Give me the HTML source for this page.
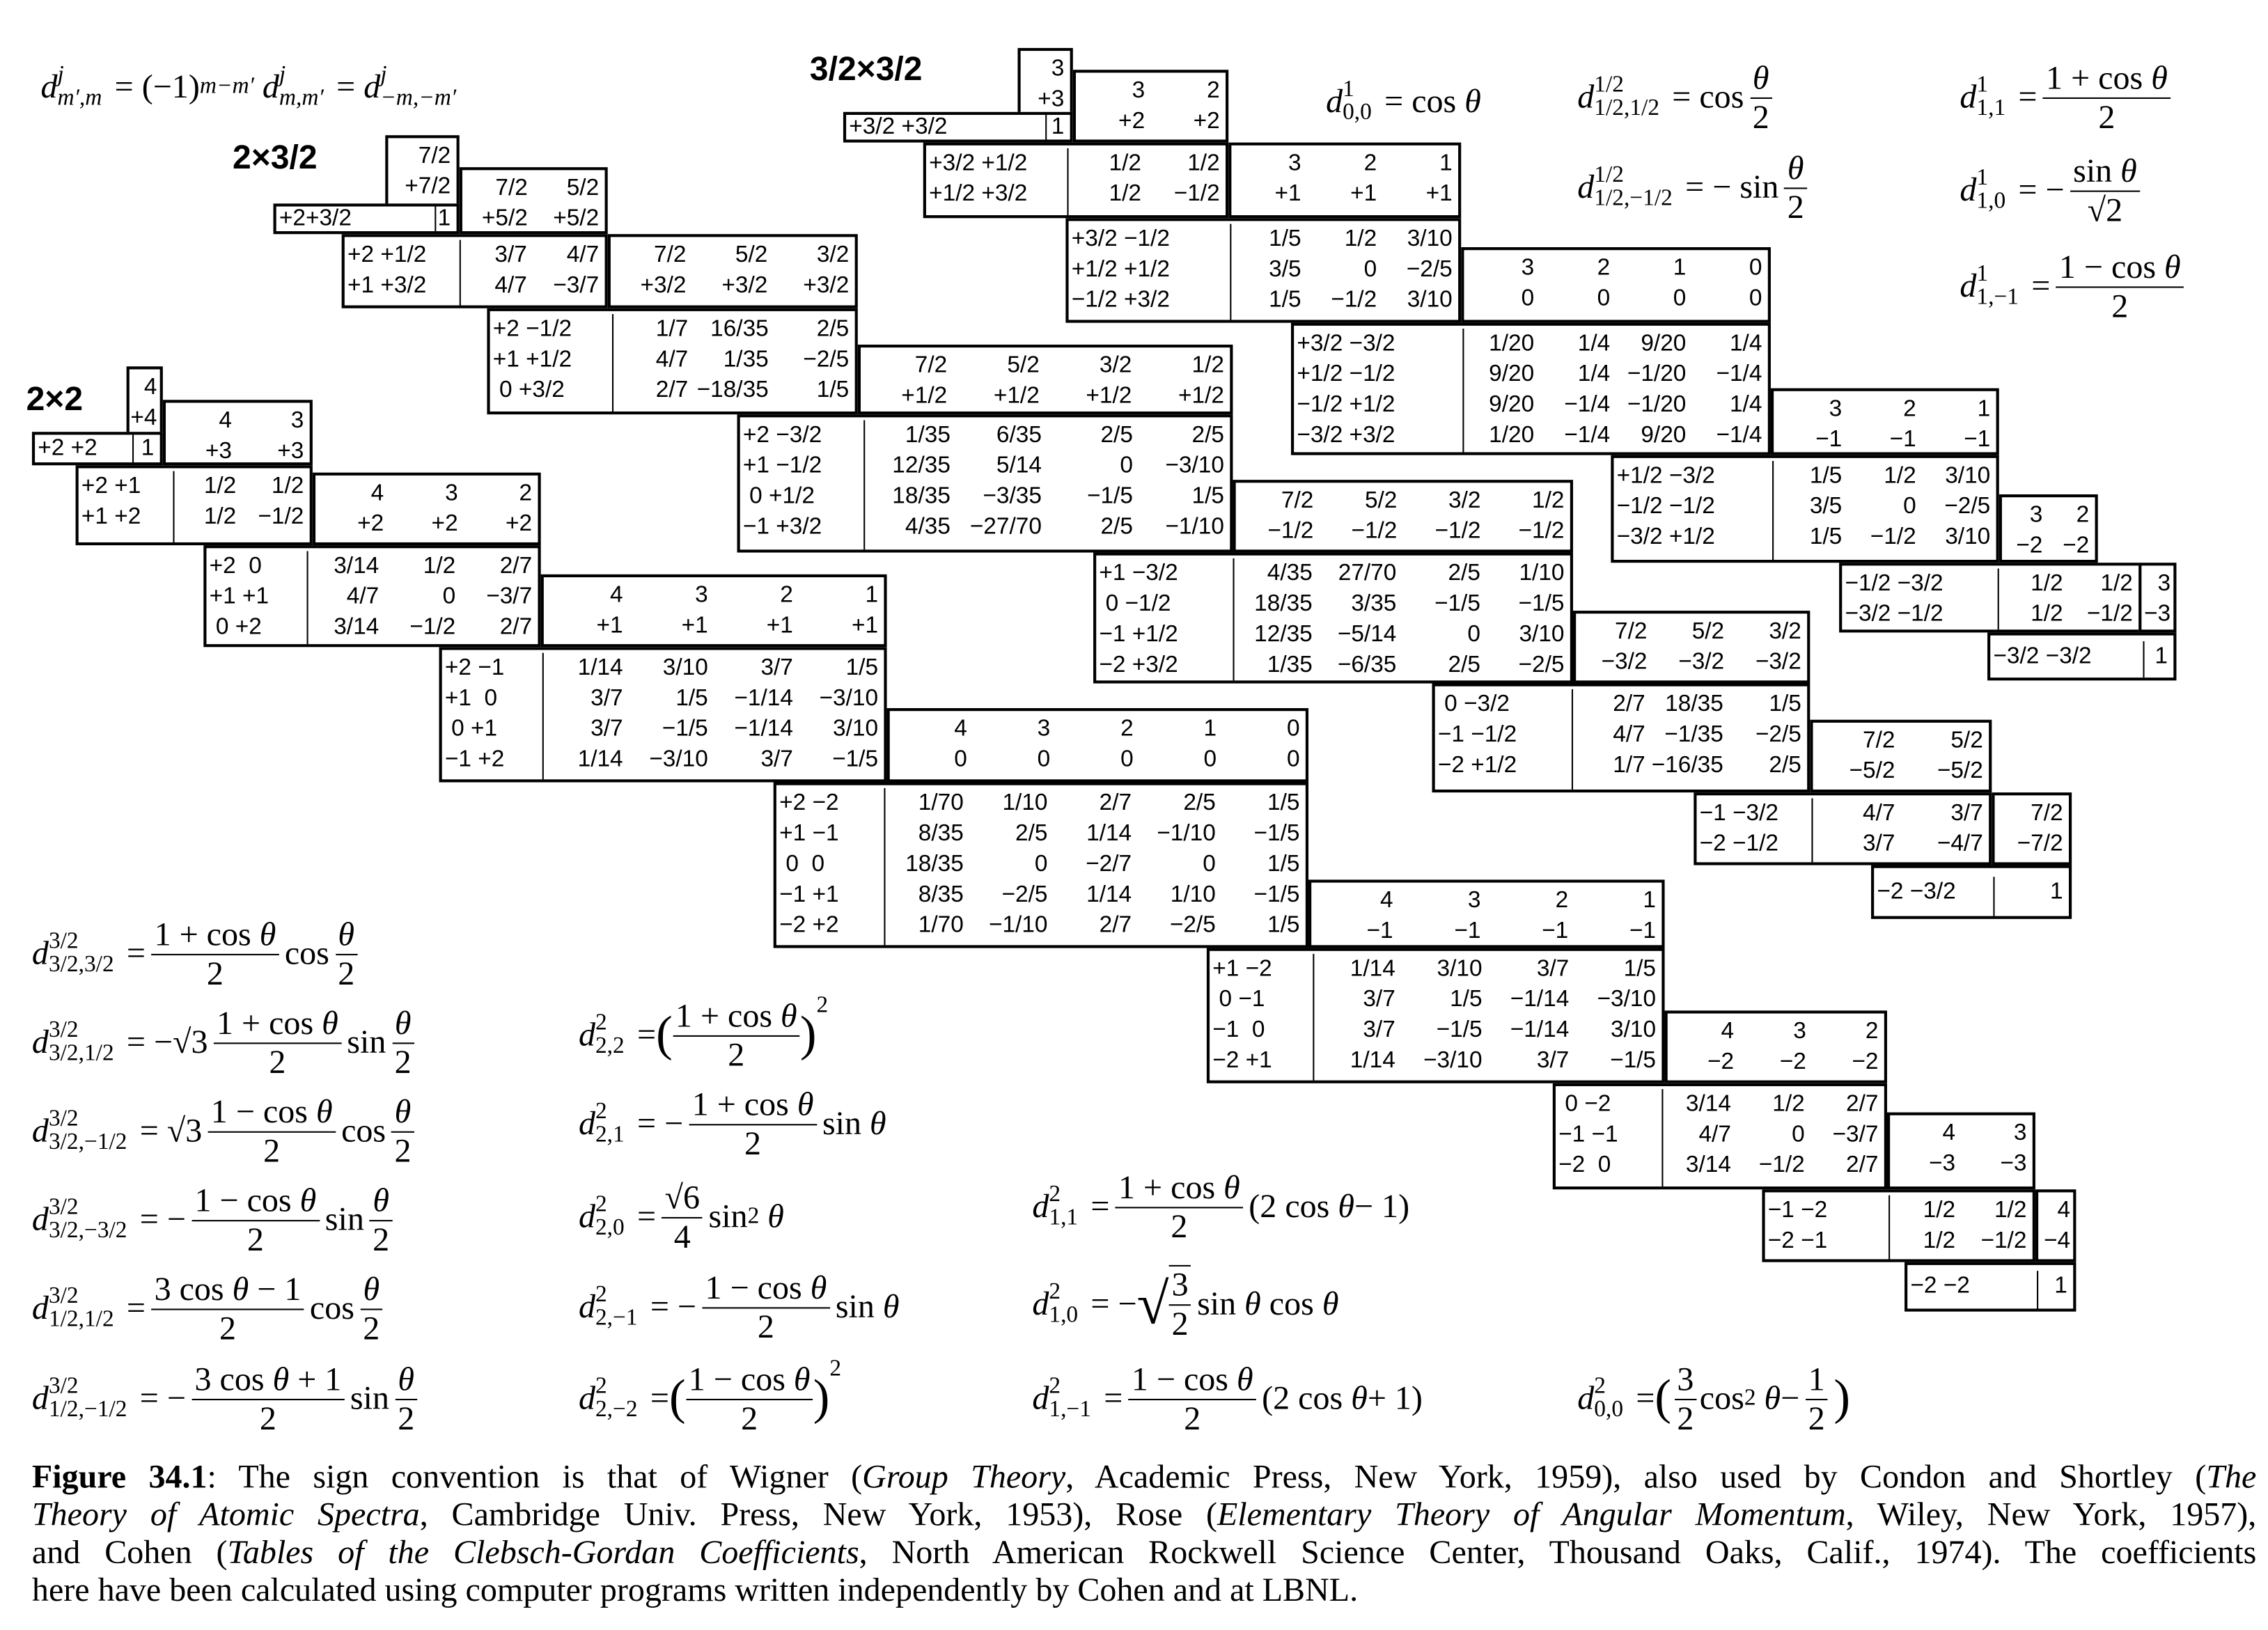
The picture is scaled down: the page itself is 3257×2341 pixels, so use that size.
<!DOCTYPE html>
<html><head><meta charset="utf-8">
<style>
html,body{margin:0;padding:0;background:#fff;width:3257px;height:2341px;overflow:hidden}
#s{position:absolute;left:0;top:0;width:1560px;height:1121px;transform:scale(2.08782,2.08831);transform-origin:0 0}
.b{position:absolute;border:2px solid #000;box-sizing:border-box;background:#fff;font:16px "Liberation Sans",sans-serif;line-height:21px;padding-top:2px}
.f{display:flex}
.l{border-right:1px solid #000;white-space:pre;padding-left:2px;box-sizing:border-box;height:100%}
.v{flex:1}
.r{display:flex}
.r span{flex:1;text-align:right;padding-right:4px;white-space:nowrap}
.t{position:absolute;font:bold 23px "Liberation Sans",sans-serif}
.m{position:absolute;font:23px "Liberation Serif",serif;white-space:nowrap;display:flex;align-items:center}
.d{font-style:italic}
.ss{display:inline-flex;flex-direction:column;font-size:16px;line-height:16px;margin-right:3px;vertical-align:middle}
.fr{display:inline-flex;flex-direction:column;align-items:center;vertical-align:middle;margin:0 4px;line-height:26px}
.fr>span:first-child{border-bottom:1px solid #000;padding:0 2px}
.cap{position:absolute;left:22px;width:1530px;font:23px "Liberation Serif",serif;line-height:26px}
.cap div{text-align:justify;text-align-last:justify;white-space:nowrap}
</style></head><body><div id="s">

<!-- 2x3/2 -->
<div class="t" style="left:160px;top:95px">2×3/2</div>
<div class="b" style="left:265px;top:93px;width:51px;height:68px"><div class="r"><span>7/2</span></div><div class="r"><span>+7/2</span></div></div>
<div class="b f" style="left:188px;top:140px;width:128px;height:21px;padding-top:0;line-height:17px"><div class="l" style="width:110px">+2+3/2</div><div class="v"><div class="r"><span>1</span></div></div></div>
<div class="b" style="left:316px;top:115px;width:102px;height:46px"><div class="r"><span>7/2</span><span>5/2</span></div><div class="r"><span>+5/2</span><span>+5/2</span></div></div>
<div class="b f" style="left:235px;top:161px;width:183px;height:51px"><div class="l" style="width:80px">+2 +1/2
+1 +3/2</div><div class="v"><div class="r"><span>3/7</span><span>4/7</span></div><div class="r"><span>4/7</span><span>−3/7</span></div></div></div>
<div class="b" style="left:418px;top:161px;width:172px;height:51px"><div class="r"><span>7/2</span><span>5/2</span><span>3/2</span></div><div class="r"><span>+3/2</span><span>+3/2</span><span>+3/2</span></div></div>
<div class="b f" style="left:335px;top:212px;width:255px;height:73px"><div class="l" style="width:85px">+2 −1/2
+1 +1/2
 0 +3/2</div><div class="v"><div class="r"><span>1/7</span><span>16/35</span><span>2/5</span></div><div class="r"><span>4/7</span><span>1/35</span><span>−2/5</span></div><div class="r"><span>2/7</span><span>−18/35</span><span>1/5</span></div></div></div>
<div class="b" style="left:590px;top:237px;width:258px;height:48px"><div class="r"><span>7/2</span><span>5/2</span><span>3/2</span><span>1/2</span></div><div class="r"><span>+1/2</span><span>+1/2</span><span>+1/2</span><span>+1/2</span></div></div>
<div class="b f" style="left:507px;top:285px;width:341px;height:95px"><div class="l" style="width:86px">+2 −3/2
+1 −1/2
 0 +1/2
−1 +3/2</div><div class="v"><div class="r"><span>1/35</span><span>6/35</span><span>2/5</span><span>2/5</span></div><div class="r"><span>12/35</span><span>5/14</span><span>0</span><span>−3/10</span></div><div class="r"><span>18/35</span><span>−3/35</span><span>−1/5</span><span>1/5</span></div><div class="r"><span>4/35</span><span>−27/70</span><span>2/5</span><span>−1/10</span></div></div></div>
<div class="b" style="left:848px;top:330px;width:234px;height:50px"><div class="r"><span>7/2</span><span>5/2</span><span>3/2</span><span>1/2</span></div><div class="r"><span>−1/2</span><span>−1/2</span><span>−1/2</span><span>−1/2</span></div></div>
<div class="b f" style="left:752px;top:380px;width:330px;height:90px"><div class="l" style="width:95px">+1 −3/2
 0 −1/2
−1 +1/2
−2 +3/2</div><div class="v"><div class="r"><span>4/35</span><span>27/70</span><span>2/5</span><span>1/10</span></div><div class="r"><span>18/35</span><span>3/35</span><span>−1/5</span><span>−1/5</span></div><div class="r"><span>12/35</span><span>−5/14</span><span>0</span><span>3/10</span></div><div class="r"><span>1/35</span><span>−6/35</span><span>2/5</span><span>−2/5</span></div></div></div>
<div class="b" style="left:1082px;top:420px;width:163px;height:50px"><div class="r"><span>7/2</span><span>5/2</span><span>3/2</span></div><div class="r"><span>−3/2</span><span>−3/2</span><span>−3/2</span></div></div>
<div class="b f" style="left:985px;top:470px;width:260px;height:75px"><div class="l" style="width:95px"> 0 −3/2
−1 −1/2
−2 +1/2</div><div class="v"><div class="r"><span>2/7</span><span>18/35</span><span>1/5</span></div><div class="r"><span>4/7</span><span>−1/35</span><span>−2/5</span></div><div class="r"><span>1/7</span><span>−16/35</span><span>2/5</span></div></div></div>
<div class="b" style="left:1245px;top:495px;width:125px;height:50px"><div class="r"><span>7/2</span><span>5/2</span></div><div class="r"><span>−5/2</span><span>−5/2</span></div></div>
<div class="b f" style="left:1165px;top:545px;width:205px;height:50px"><div class="l" style="width:80px">−1 −3/2
−2 −1/2</div><div class="v"><div class="r"><span>4/7</span><span>3/7</span></div><div class="r"><span>3/7</span><span>−4/7</span></div></div></div>
<div class="b" style="left:1370px;top:545px;width:55px;height:50px"><div class="r"><span>7/2</span></div><div class="r"><span>−7/2</span></div></div>
<div class="b f" style="left:1287px;top:595px;width:138px;height:37px;padding-top:6px"><div class="l" style="width:83px">−2 −3/2</div><div class="v"><div class="r"><span>1</span></div></div></div>

<!-- 2x2 -->
<div class="t" style="left:18px;top:261px">2×2</div>
<div class="b" style="left:87px;top:252px;width:25px;height:68px"><div class="r"><span style="padding-right:2px">4</span></div><div class="r"><span style="padding-right:2px">+4</span></div></div>
<div class="b f" style="left:22px;top:297px;width:90px;height:23px;padding-top:0;line-height:19px"><div class="l" style="width:68px">+2 +2</div><div class="v"><div class="r"><span>1</span></div></div></div>
<div class="b" style="left:112px;top:275px;width:103px;height:45px"><div class="r"><span>4</span><span>3</span></div><div class="r"><span>+3</span><span>+3</span></div></div>
<div class="b f" style="left:52px;top:320px;width:163px;height:55px"><div class="l" style="width:66px">+2 +1
+1 +2</div><div class="v"><div class="r"><span>1/2</span><span>1/2</span></div><div class="r"><span>1/2</span><span>−1/2</span></div></div></div>
<div class="b" style="left:215px;top:325px;width:157px;height:50px"><div class="r"><span>4</span><span>3</span><span>2</span></div><div class="r"><span>+2</span><span>+2</span><span>+2</span></div></div>
<div class="b f" style="left:140px;top:375px;width:232px;height:70px"><div class="l" style="width:70px">+2  0
+1 +1
 0 +2</div><div class="v"><div class="r"><span>3/14</span><span>1/2</span><span>2/7</span></div><div class="r"><span>4/7</span><span>0</span><span>−3/7</span></div><div class="r"><span>3/14</span><span>−1/2</span><span>2/7</span></div></div></div>
<div class="b" style="left:372px;top:395px;width:238px;height:50px"><div class="r"><span>4</span><span>3</span><span>2</span><span>1</span></div><div class="r"><span>+1</span><span>+1</span><span>+1</span><span>+1</span></div></div>
<div class="b f" style="left:302px;top:445px;width:308px;height:93px"><div class="l" style="width:70px">+2 −1
+1  0
 0 +1
−1 +2</div><div class="v"><div class="r"><span>1/14</span><span>3/10</span><span>3/7</span><span>1/5</span></div><div class="r"><span>3/7</span><span>1/5</span><span>−1/14</span><span>−3/10</span></div><div class="r"><span>3/7</span><span>−1/5</span><span>−1/14</span><span>3/10</span></div><div class="r"><span>1/14</span><span>−3/10</span><span>3/7</span><span>−1/5</span></div></div></div>
<div class="b" style="left:610px;top:487px;width:290px;height:51px"><div class="r"><span>4</span><span>3</span><span>2</span><span>1</span><span>0</span></div><div class="r"><span>0</span><span>0</span><span>0</span><span>0</span><span>0</span></div></div>
<div class="b f" style="left:532px;top:538px;width:368px;height:114px"><div class="l" style="width:75px">+2 −2
+1 −1
 0  0
−1 +1
−2 +2</div><div class="v"><div class="r"><span>1/70</span><span>1/10</span><span>2/7</span><span>2/5</span><span>1/5</span></div><div class="r"><span>8/35</span><span>2/5</span><span>1/14</span><span>−1/10</span><span>−1/5</span></div><div class="r"><span>18/35</span><span>0</span><span>−2/7</span><span>0</span><span>1/5</span></div><div class="r"><span>8/35</span><span>−2/5</span><span>1/14</span><span>1/10</span><span>−1/5</span></div><div class="r"><span>1/70</span><span>−1/10</span><span>2/7</span><span>−2/5</span><span>1/5</span></div></div></div>
<div class="b" style="left:900px;top:605px;width:245px;height:47px"><div class="r"><span>4</span><span>3</span><span>2</span><span>1</span></div><div class="r"><span>−1</span><span>−1</span><span>−1</span><span>−1</span></div></div>
<div class="b f" style="left:830px;top:652px;width:315px;height:93px"><div class="l" style="width:72px">+1 −2
 0 −1
−1  0
−2 +1</div><div class="v"><div class="r"><span>1/14</span><span>3/10</span><span>3/7</span><span>1/5</span></div><div class="r"><span>3/7</span><span>1/5</span><span>−1/14</span><span>−3/10</span></div><div class="r"><span>3/7</span><span>−1/5</span><span>−1/14</span><span>3/10</span></div><div class="r"><span>1/14</span><span>−3/10</span><span>3/7</span><span>−1/5</span></div></div></div>
<div class="b" style="left:1145px;top:695px;width:153px;height:50px"><div class="r"><span>4</span><span>3</span><span>2</span></div><div class="r"><span>−2</span><span>−2</span><span>−2</span></div></div>
<div class="b f" style="left:1068px;top:745px;width:230px;height:73px"><div class="l" style="width:74px"> 0 −2
−1 −1
−2  0</div><div class="v"><div class="r"><span>3/14</span><span>1/2</span><span>2/7</span></div><div class="r"><span>4/7</span><span>0</span><span>−3/7</span></div><div class="r"><span>3/14</span><span>−1/2</span><span>2/7</span></div></div></div>
<div class="b" style="left:1298px;top:765px;width:102px;height:53px"><div class="r"><span>4</span><span>3</span></div><div class="r"><span>−3</span><span>−3</span></div></div>
<div class="b f" style="left:1212px;top:818px;width:188px;height:50px"><div class="l" style="width:86px">−1 −2
−2 −1</div><div class="v"><div class="r"><span>1/2</span><span>1/2</span></div><div class="r"><span>1/2</span><span>−1/2</span></div></div></div>
<div class="b" style="left:1400px;top:818px;width:28px;height:50px"><div class="r"><span style="padding-right:2px">4</span></div><div class="r"><span style="padding-right:2px">−4</span></div></div>
<div class="b f" style="left:1310px;top:868px;width:118px;height:34px;padding-top:4px"><div class="l" style="width:90px">−2 −2</div><div class="v"><div class="r"><span>1</span></div></div></div>

<!-- 3/2x3/2 -->
<div class="t" style="left:557px;top:34px">3/2×3/2</div>
<div class="b" style="left:700px;top:33px;width:38px;height:65px"><div class="r"><span>3</span></div><div class="r"><span>+3</span></div></div>
<div class="b f" style="left:580px;top:77px;width:158px;height:21px;padding-top:0;line-height:17px"><div class="l" style="width:138px">+3/2 +3/2</div><div class="v"><div class="r"><span>1</span></div></div></div>
<div class="b" style="left:738px;top:48px;width:107px;height:50px"><div class="r"><span>3</span><span>2</span></div><div class="r"><span>+2</span><span>+2</span></div></div>
<div class="b f" style="left:635px;top:98px;width:210px;height:52px"><div class="l" style="width:98px">+3/2 +1/2
+1/2 +3/2</div><div class="v"><div class="r"><span>1/2</span><span>1/2</span></div><div class="r"><span>1/2</span><span>−1/2</span></div></div></div>
<div class="b" style="left:845px;top:98px;width:160px;height:52px"><div class="r"><span>3</span><span>2</span><span>1</span></div><div class="r"><span>+1</span><span>+1</span><span>+1</span></div></div>
<div class="b f" style="left:733px;top:150px;width:272px;height:72px"><div class="l" style="width:112px">+3/2 −1/2
+1/2 +1/2
−1/2 +3/2</div><div class="v"><div class="r"><span>1/5</span><span>1/2</span><span>3/10</span></div><div class="r"><span>3/5</span><span>0</span><span>−2/5</span></div><div class="r"><span>1/5</span><span>−1/2</span><span>3/10</span></div></div></div>
<div class="b" style="left:1005px;top:170px;width:213px;height:52px"><div class="r"><span>3</span><span>2</span><span>1</span><span>0</span></div><div class="r"><span>0</span><span>0</span><span>0</span><span>0</span></div></div>
<div class="b f" style="left:888px;top:222px;width:330px;height:91px"><div class="l" style="width:117px">+3/2 −3/2
+1/2 −1/2
−1/2 +1/2
−3/2 +3/2</div><div class="v"><div class="r"><span>1/20</span><span>1/4</span><span>9/20</span><span>1/4</span></div><div class="r"><span>9/20</span><span>1/4</span><span>−1/20</span><span>−1/4</span></div><div class="r"><span>9/20</span><span>−1/4</span><span>−1/20</span><span>1/4</span></div><div class="r"><span>1/20</span><span>−1/4</span><span>9/20</span><span>−1/4</span></div></div></div>
<div class="b" style="left:1218px;top:267px;width:157px;height:46px"><div class="r"><span>3</span><span>2</span><span>1</span></div><div class="r"><span>−1</span><span>−1</span><span>−1</span></div></div>
<div class="b f" style="left:1108px;top:313px;width:267px;height:74px"><div class="l" style="width:110px">+1/2 −3/2
−1/2 −1/2
−3/2 +1/2</div><div class="v"><div class="r"><span>1/5</span><span>1/2</span><span>3/10</span></div><div class="r"><span>3/5</span><span>0</span><span>−2/5</span></div><div class="r"><span>1/5</span><span>−1/2</span><span>3/10</span></div></div></div>
<div class="b" style="left:1375px;top:340px;width:68px;height:47px"><div class="r"><span>3</span><span>2</span></div><div class="r"><span>−2</span><span>−2</span></div></div>
<div class="b f" style="left:1265px;top:387px;width:208px;height:48px"><div class="l" style="width:108px">−1/2 −3/2
−3/2 −1/2</div><div class="v"><div class="r"><span>1/2</span><span>1/2</span></div><div class="r"><span>1/2</span><span>−1/2</span></div></div></div>
<div class="b" style="left:1471px;top:387px;width:26px;height:48px"><div class="r"><span style="padding-right:2px">3</span></div><div class="r"><span style="padding-right:2px">−3</span></div></div>
<div class="b f" style="left:1367px;top:435px;width:130px;height:33px;padding-top:4px"><div class="l" style="width:106px">−3/2 −3/2</div><div class="v"><div class="r"><span>1</span></div></div></div>

<!-- formulas top -->
<div class="m" style="left:28px;top:40px;height:40px"><i class="d">d</i><span class="ss"><i>j</i><i>m′,m</i></span>&nbsp;= (−1)<sup style="font-size:16px;font-style:italic">m−m′</sup>&nbsp;<i class="d">d</i><span class="ss"><i>j</i><i>m,m′</i></span>&nbsp;= <i class="d">&nbsp;d</i><span class="ss"><i>j</i><i>−m,−m′</i></span></div>
<div class="m" style="left:912px;top:50px;height:40px"><i class="d">d</i><span class="ss"><span>1</span><span>0,0</span></span>&nbsp;= cos&nbsp;<i>θ</i></div>
<div class="m" style="left:1085px;top:38px;height:58px"><i class="d">d</i><span class="ss"><span>1/2</span><span>1/2,1/2</span></span>&nbsp;= cos<span class="fr"><span><i>θ</i></span><span>2</span></span></div>
<div class="m" style="left:1085px;top:100px;height:58px"><i class="d">d</i><span class="ss"><span>1/2</span><span>1/2,−1/2</span></span>&nbsp;= − sin<span class="fr"><span><i>θ</i></span><span>2</span></span></div>
<div class="m" style="left:1348px;top:38px;height:58px"><i class="d">d</i><span class="ss"><span>1</span><span>1,1</span></span>&nbsp;=<span class="fr"><span>1 + cos&nbsp;<i>θ</i></span><span>2</span></span></div>
<div class="m" style="left:1348px;top:102px;height:58px"><i class="d">d</i><span class="ss"><span>1</span><span>1,0</span></span>&nbsp;= −<span class="fr"><span>sin&nbsp;<i>θ</i></span><span>√2</span></span></div>
<div class="m" style="left:1348px;top:168px;height:58px"><i class="d">d</i><span class="ss"><span>1</span><span>1,−1</span></span>&nbsp;=<span class="fr"><span>1 − cos&nbsp;<i>θ</i></span><span>2</span></span></div>

<!-- formulas bottom left -->
<div class="m" style="left:22px;top:627px;height:58px"><i class="d">d</i><span class="ss"><span>3/2</span><span>3/2,3/2</span></span>&nbsp;=<span class="fr"><span>1 + cos&nbsp;<i>θ</i></span><span>2</span></span>cos<span class="fr"><span><i>θ</i></span><span>2</span></span></div>
<div class="m" style="left:22px;top:688px;height:58px"><i class="d">d</i><span class="ss"><span>3/2</span><span>3/2,1/2</span></span>&nbsp;= −√3<span class="fr"><span>1 + cos&nbsp;<i>θ</i></span><span>2</span></span>sin<span class="fr"><span><i>θ</i></span><span>2</span></span></div>
<div class="m" style="left:22px;top:749px;height:58px"><i class="d">d</i><span class="ss"><span>3/2</span><span>3/2,−1/2</span></span>&nbsp;= √3<span class="fr"><span>1 − cos&nbsp;<i>θ</i></span><span>2</span></span>cos<span class="fr"><span><i>θ</i></span><span>2</span></span></div>
<div class="m" style="left:22px;top:810px;height:58px"><i class="d">d</i><span class="ss"><span>3/2</span><span>3/2,−3/2</span></span>&nbsp;= −<span class="fr"><span>1 − cos&nbsp;<i>θ</i></span><span>2</span></span>sin<span class="fr"><span><i>θ</i></span><span>2</span></span></div>
<div class="m" style="left:22px;top:871px;height:58px"><i class="d">d</i><span class="ss"><span>3/2</span><span>1/2,1/2</span></span>&nbsp;=<span class="fr"><span>3 cos&nbsp;<i>θ</i> − 1</span><span>2</span></span>cos<span class="fr"><span><i>θ</i></span><span>2</span></span></div>
<div class="m" style="left:22px;top:933px;height:58px"><i class="d">d</i><span class="ss"><span>3/2</span><span>1/2,−1/2</span></span>&nbsp;= −<span class="fr"><span>3 cos&nbsp;<i>θ</i> + 1</span><span>2</span></span>sin<span class="fr"><span><i>θ</i></span><span>2</span></span></div>

<div class="m" style="left:398px;top:683px;height:58px"><i class="d">d</i><span class="ss"><span>2</span><span>2,2</span></span>&nbsp;= <span style="font-size:34px">(</span><span class="fr" style="margin:0"><span>1 + cos&nbsp;<i>θ</i></span><span>2</span></span><span style="font-size:34px">)</span><sup style="font-size:16px;align-self:flex-start">2</sup></div>
<div class="m" style="left:398px;top:744px;height:58px"><i class="d">d</i><span class="ss"><span>2</span><span>2,1</span></span>&nbsp;= −<span class="fr"><span>1 + cos&nbsp;<i>θ</i></span><span>2</span></span>sin&nbsp;<i>θ</i></div>
<div class="m" style="left:398px;top:808px;height:58px"><i class="d">d</i><span class="ss"><span>2</span><span>2,0</span></span>&nbsp;=<span class="fr"><span>√6</span><span>4</span></span>sin<sup style="font-size:16px">2</sup>&nbsp;<i>θ</i></div>
<div class="m" style="left:398px;top:870px;height:58px"><i class="d">d</i><span class="ss"><span>2</span><span>2,−1</span></span>&nbsp;= −<span class="fr"><span>1 − cos&nbsp;<i>θ</i></span><span>2</span></span>sin&nbsp;<i>θ</i></div>
<div class="m" style="left:398px;top:933px;height:58px"><i class="d">d</i><span class="ss"><span>2</span><span>2,−2</span></span>&nbsp;= <span style="font-size:34px">(</span><span class="fr" style="margin:0"><span>1 − cos&nbsp;<i>θ</i></span><span>2</span></span><span style="font-size:34px">)</span><sup style="font-size:16px;align-self:flex-start">2</sup></div>

<div class="m" style="left:710px;top:801px;height:58px"><i class="d">d</i><span class="ss"><span>2</span><span>1,1</span></span>&nbsp;=<span class="fr"><span>1 + cos&nbsp;<i>θ</i></span><span>2</span></span>(2 cos&nbsp;<i>θ</i> − 1)</div>
<div class="m" style="left:710px;top:866px;height:62px"><i class="d">d</i><span class="ss"><span>2</span><span>1,0</span></span>&nbsp;= −<span style="font-size:40px;line-height:40px">√</span><span class="fr" style="border-top:1px solid #000;margin-left:0"><span>3</span><span>2</span></span>sin&nbsp;<i>θ</i>&nbsp;cos&nbsp;<i>θ</i></div>
<div class="m" style="left:710px;top:933px;height:58px"><i class="d">d</i><span class="ss"><span>2</span><span>1,−1</span></span>&nbsp;=<span class="fr"><span>1 − cos&nbsp;<i>θ</i></span><span>2</span></span>(2 cos&nbsp;<i>θ</i> + 1)</div>
<div class="m" style="left:1085px;top:933px;height:58px"><i class="d">d</i><span class="ss"><span>2</span><span>0,0</span></span>&nbsp;= <span style="font-size:34px">(</span><span class="fr" style="margin:0 2px"><span>3</span><span>2</span></span>cos<sup style="font-size:16px">2</sup>&nbsp;<i>θ</i> −<span class="fr"><span>1</span><span>2</span></span><span style="font-size:34px">)</span></div>

<!-- caption -->
<div class="cap" style="top:1003px">
<div><b>Figure 34.1</b>: The sign convention is that of Wigner (<i>Group Theory</i>, Academic Press, New York, 1959), also used by Condon and Shortley (<i>The</i></div>
<div><i>Theory of Atomic Spectra</i>, Cambridge Univ. Press, New York, 1953), Rose (<i>Elementary Theory of Angular Momentum</i>, Wiley, New York, 1957),</div>
<div>and Cohen (<i>Tables of the Clebsch-Gordan Coefficients</i>, North American Rockwell Science Center, Thousand Oaks, Calif., 1974). The coefficients</div>
<div style="text-align-last:left">here have been calculated using computer programs written independently by Cohen and at LBNL.</div>
</div>

</div></body></html>
